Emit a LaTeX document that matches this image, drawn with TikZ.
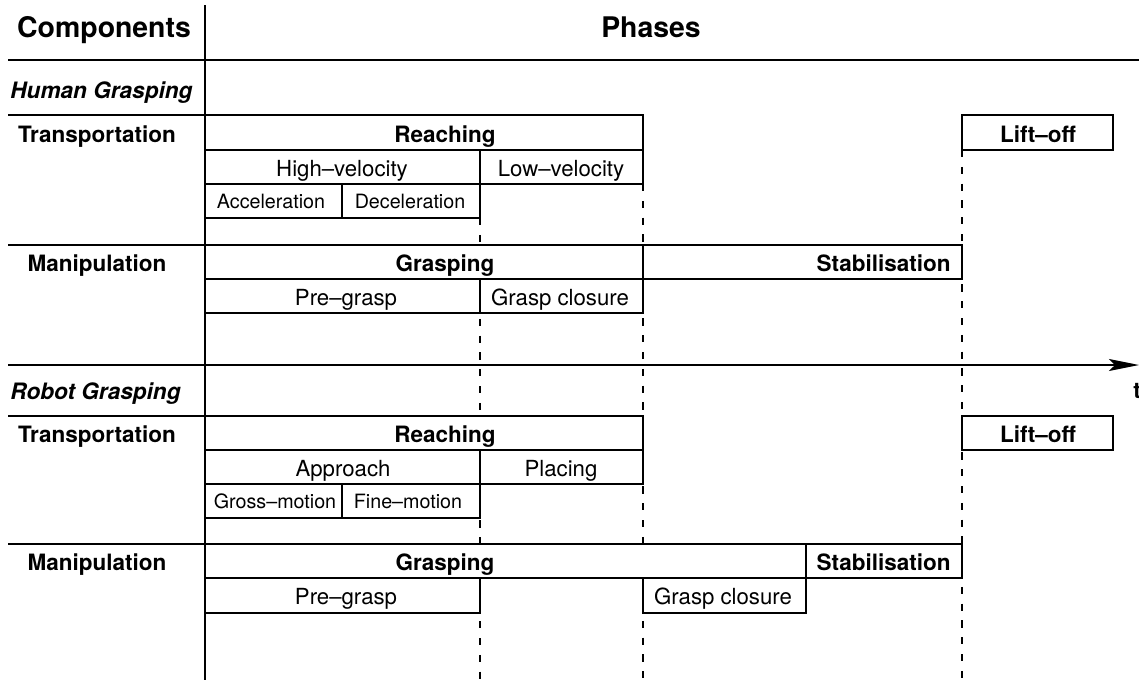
\documentclass[tikz,border=0pt]{standalone}
\usepackage{fontspec}
\setmainfont{TeX Gyre Heros}
\usetikzlibrary{arrows.meta}

\begin{document}
\begin{tikzpicture}[x=0.5pt,y=-0.5pt,
  rule/.style={line width=0.75pt},
  box/.style={line width=0.75pt,fill=white},
  guide/.style={line width=0.7pt,dash pattern=on 3.6pt off 4.8pt},
  head/.style={inner sep=0pt,anchor=base,font=\fontsize{14.2pt}{16pt}\selectfont\bfseries},
  group/.style={inner sep=0pt,anchor=base west,font=\fontsize{11.3pt}{13pt}\selectfont\bfseries\itshape},
  comp/.style={inner sep=0pt,anchor=base,font=\fontsize{11.25pt}{13pt}\selectfont\bfseries},
  phase/.style={inner sep=0pt,anchor=base,font=\fontsize{11.25pt}{13pt}\selectfont\bfseries},
  sub/.style={inner sep=0pt,anchor=base,font=\fontsize{11.1pt}{13pt}\selectfont},
  subsub/.style={inner sep=0pt,anchor=base,font=\fontsize{9.85pt}{12pt}\selectfont}]
\useasboundingbox (0,0) rectangle (1139,680);

% table frame
\draw[rule] (205,5) -- (205,680);
\draw[rule] (8,60) -- (1139,60);
\draw[rule] (8,115) -- (205,115);
\draw[rule] (8,245) -- (205,245);
\draw[rule] (8,416) -- (205,416);
\draw[rule] (8,544) -- (205,544);
\draw[rule,-{Stealth[length=15pt,width=6pt,inset=3pt]}] (8,365) -- (1139,365);
\node[phase,anchor=base west] (time) at (1133,398) {t};

\node[head] (components) at (104,37) {Components};
\node[head] (phases) at (651,37) {Phases};

% phase boundaries
\draw[guide] (480,218) -- (480,680);
\draw[guide] (643,184) -- (643,680);
\draw[guide] (962,150) -- (962,680);

% human grasping
\node[group] (human) at (10,98) {Human Grasping};
\node[comp] (hTrans) at (97,142) {Transportation};
\draw[box] (205,115) rectangle (643,150);
\draw[box] (962,115) rectangle (1113,150);
\draw[box] (205,150) rectangle (480,184);
\draw[box] (480,150) rectangle (643,184);
\draw[box] (205,184) rectangle (342,218);
\draw[box] (342,184) rectangle (480,218);
\node[phase] (hReach) at (445,142) {Reaching};
\node[phase] (hLift) at (1038,142) {Lift–off};
\node[sub] (hHigh) at (342,176) {High–velocity};
\node[sub] (hLow) at (561,176) {Low–velocity};
\node[subsub] (hAcc) at (271,208) {Acceleration};
\node[subsub] (hDec) at (410,208) {Deceleration};

\node[comp] (hManip) at (97,271) {Manipulation};
\draw[box] (205,245) rectangle (643,279);
\draw[box] (643,245) rectangle (962,279);
\draw[box] (205,279) rectangle (480,313);
\draw[box] (480,279) rectangle (643,313);
\node[phase] (hGrasp) at (445,271) {Grasping};
\node[phase,anchor=base east] (hStab) at (951,271) {Stabilisation};
\node[sub] (hPre) at (346,305) {Pre–grasp};
\node[sub] (hClose) at (560,305) {Grasp closure};

% robot grasping
\node[group] (robot) at (10,399) {Robot Grasping};
\node[comp] (rTrans) at (97,442) {Transportation};
\draw[box] (205,416) rectangle (643,450);
\draw[box] (962,416) rectangle (1113,450);
\draw[box] (205,450) rectangle (480,484);
\draw[box] (480,450) rectangle (643,484);
\draw[box] (205,484) rectangle (342,518);
\draw[box] (342,484) rectangle (480,518);
\node[phase] (rReach) at (445,442) {Reaching};
\node[phase] (rLift) at (1038,442) {Lift–off};
\node[sub] (rAppr) at (343,476) {Approach};
\node[sub] (rPlace) at (561,476) {Placing};
\node[subsub] (rGross) at (275,508) {Gross–motion};
\node[subsub] (rFine) at (408,508) {Fine–motion};

\node[comp] (rManip) at (97,570) {Manipulation};
\draw[box] (205,544) rectangle (806,578);
\draw[box] (806,544) rectangle (962,578);
\draw[box] (205,578) rectangle (480,613);
\draw[box] (643,578) rectangle (806,613);
\node[phase] (rGrasp) at (445,570) {Grasping};
\node[phase,anchor=base east] (rStab) at (951,570) {Stabilisation};
\node[sub] (rPre) at (346,604) {Pre–grasp};
\node[sub] (rClose) at (723,604) {Grasp closure};
\end{tikzpicture}
\end{document}
